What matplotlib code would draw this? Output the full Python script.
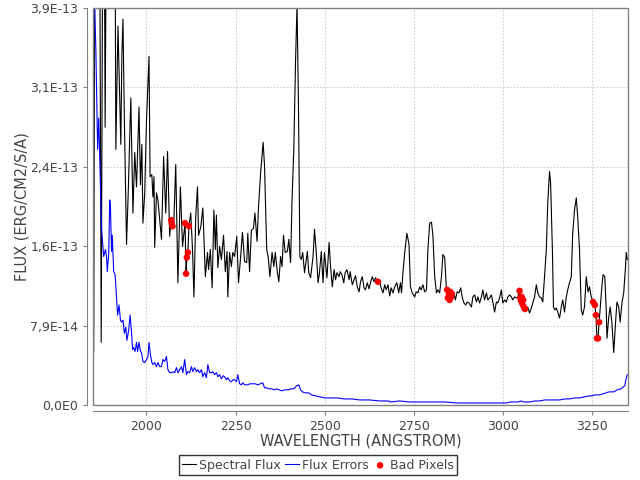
import numpy as np
import matplotlib
matplotlib.use("Agg")
import matplotlib.pyplot as plt
from matplotlib.patches import Rectangle

# spectral flux (units of 1e-13 erg/cm2/s/A)
wave = [1852, 1855, 1869, 1873, 1877, 1882, 1884, 1887, 1912, 1914, 1920, 1928, 1931, 1934, 1938,
        1944, 1949, 1956, 1962, 1967, 1972, 1979, 1983, 1987, 1990, 1995, 2000, 2007, 2010, 2015,
        2018, 2021, 2023, 2028, 2032, 2037, 2042, 2048, 2054, 2059, 2065, 2069, 2071, 2073, 2076,
        2082, 2088, 2095, 2101, 2108, 2111, 2113, 2116, 2119, 2124, 2129, 2133, 2138, 2143, 2146,
        2152, 2158, 2165, 2171, 2174, 2179, 2184, 2189, 2193, 2196, 2200, 2205, 2210, 2216, 2221,
        2226, 2228, 2233, 2238, 2242, 2247, 2253, 2258, 2264, 2269, 2275, 2281, 2284, 2289, 2294,
        2300, 2304, 2310, 2314, 2320, 2327, 2331, 2337, 2341, 2346, 2352, 2357, 2361, 2367, 2371,
        2376, 2380, 2384, 2389, 2395, 2399, 2404, 2408, 2413, 2418, 2422, 2426, 2430, 2434, 2438,
        2443, 2451, 2455, 2460, 2467, 2471, 2476, 2481, 2485, 2490, 2495, 2499, 2506, 2512, 2516,
        2521, 2526, 2530, 2534, 2540, 2543, 2548, 2553, 2557, 2562, 2568, 2571, 2577, 2582, 2586,
        2591, 2596, 2600, 2605, 2610, 2614, 2619, 2624, 2628, 2633, 2638, 2642, 2649, 2654, 2658,
        2663, 2668, 2672, 2677, 2682, 2686, 2691, 2696, 2702, 2707, 2712, 2715, 2719, 2724, 2730,
        2736, 2740, 2745, 2752, 2756, 2761, 2766, 2770, 2775, 2780, 2785, 2789, 2794, 2799, 2803,
        2808, 2813, 2817, 2822, 2827, 2831, 2836, 2841, 2843, 2845, 2848, 2850, 2852, 2854, 2856,
        2862, 2866, 2871, 2876, 2881, 2885, 2890, 2895, 2899, 2904, 2911, 2915, 2920, 2925, 2929,
        2934, 2939, 2943, 2948, 2953, 2957, 2962, 2967, 2971, 2976, 2981, 2985, 2990, 2995, 2999,
        3004, 3009, 3013, 3018, 3023, 3027, 3032, 3037, 3041, 3046, 3048, 3050, 3052, 3054, 3056,
        3058, 3061, 3069, 3074, 3079, 3083, 3088, 3093, 3097, 3102, 3107, 3111, 3116, 3121, 3125,
        3130, 3133, 3138, 3141, 3145, 3149, 3154, 3158, 3163, 3167, 3172, 3177, 3181, 3186, 3191,
        3195, 3200, 3205, 3209, 3214, 3219, 3223, 3228, 3233, 3238, 3242, 3247, 3252, 3257, 3260,
        3263, 3266, 3269, 3276, 3280, 3285, 3289, 3291, 3296, 3300, 3305, 3310, 3315, 3319, 3324,
        3328, 3333, 3338, 3343, 3345, 3348]
flux = [0.53, 4.60, 4.60, 0.62, 4.60, 4.60, 2.75, 4.60, 4.60, 2.53, 3.75, 2.58, 3.47, 3.82, 2.82,
        1.59, 2.13, 3.04, 1.90, 2.50, 2.16, 2.95, 2.18, 2.58, 1.80, 2.10, 2.82, 3.45, 2.26, 2.28,
        2.06, 2.26, 1.56, 2.10, 2.03, 1.83, 1.64, 2.46, 1.90, 2.51, 1.67, 1.83, 1.80, 1.77, 1.75,
        2.38, 1.21, 2.16, 1.57, 1.80, 1.30, 1.46, 1.51, 1.77, 1.90, 1.54, 1.07, 1.86, 2.16, 1.68,
        1.76, 1.95, 1.27, 1.51, 1.34, 1.54, 1.16, 1.93, 1.54, 1.88, 1.36, 1.57, 1.44, 1.68, 1.32,
        1.52, 1.07, 1.51, 1.37, 1.51, 1.47, 1.67, 1.21, 1.47, 1.71, 1.42, 1.41, 1.70, 1.32, 1.73,
        1.75, 1.90, 1.62, 1.96, 2.30, 2.60, 2.36, 1.54, 1.47, 1.27, 1.51, 1.37, 1.51, 1.31, 1.22,
        1.47, 1.37, 1.68, 1.51, 1.52, 1.64, 1.41, 2.03, 2.53, 3.42, 3.96, 3.00, 1.47, 1.44, 1.51,
        1.31, 1.52, 1.31, 1.26, 1.47, 1.74, 1.51, 1.21, 1.31, 1.52, 1.21, 1.51, 1.26, 1.61, 1.37,
        1.17, 1.34, 1.24, 1.31, 1.27, 1.32, 1.29, 1.21, 1.31, 1.34, 1.24, 1.32, 1.19, 1.24, 1.28,
        1.17, 1.12, 1.22, 1.27, 1.16, 1.14, 1.21, 1.15, 1.21, 1.27, 1.22, 1.26, 1.22, 1.21, 1.16,
        1.11, 1.19, 1.14, 1.19, 1.08, 1.16, 1.11, 1.17, 1.21, 1.11, 1.21, 1.11, 1.31, 1.51, 1.70,
        1.59, 1.17, 1.11, 1.07, 1.12, 1.11, 1.17, 1.14, 1.19, 1.12, 1.14, 1.54, 1.80, 1.81, 1.68,
        1.27, 1.11, 1.14, 1.11, 1.27, 1.49, 1.46, 1.14, 1.14, 1.06, 1.10, 1.04, 1.12, 1.07, 1.10,
        1.11, 1.04, 1.12, 1.11, 1.16, 1.07, 1.01, 0.99, 1.02, 1.01, 0.97, 1.07, 1.09, 1.02, 1.07,
        1.01, 1.07, 1.14, 1.04, 1.11, 1.04, 1.06, 1.09, 1.02, 0.92, 1.02, 1.01, 1.06, 1.14, 1.01,
        1.04, 1.02, 1.07, 1.09, 1.07, 1.04, 1.07, 1.06, 1.07, 1.13, 1.06, 1.03, 1.07, 1.00, 1.04,
        0.97, 0.95, 0.97, 0.91, 0.96, 1.01, 1.07, 1.19, 1.11, 1.07, 1.06, 1.02, 1.27, 1.54, 2.00,
        2.31, 2.20, 1.54, 0.97, 0.94, 0.96, 0.91, 0.86, 0.97, 1.04, 0.92, 1.07, 1.14, 1.21, 1.27,
        1.70, 1.93, 2.05, 1.86, 1.54, 0.94, 0.89, 0.97, 1.27, 1.12, 1.17, 1.07, 1.02, 0.99, 0.89,
        0.66, 0.66, 0.82, 1.14, 1.29, 1.27, 0.94, 0.66, 0.87, 0.97, 0.81, 0.52, 0.81, 1.02, 0.97,
        0.82, 1.01, 1.11, 1.37, 1.51, 1.44]

# flux errors
err_wave = [1852, 1858, 1863, 1866, 1872, 1874, 1880, 1885, 1888, 1890, 1894, 1897, 1899, 1902, 1904,
            1908, 1912, 1916, 1919, 1923, 1927, 1930, 1934, 1938, 1942, 1945, 1950, 1954, 1958, 1961,
            1964, 1968, 1972, 1975, 1979, 1983, 1986, 1990, 1995, 2000, 2004, 2007, 2011, 2015, 2018,
            2023, 2028, 2032, 2037, 2042, 2046, 2051, 2056, 2060, 2065, 2070, 2074, 2079, 2084, 2088,
            2093, 2098, 2102, 2107, 2112, 2116, 2121, 2126, 2130, 2135, 2140, 2144, 2149, 2154, 2158,
            2163, 2168, 2172, 2177, 2182, 2186, 2191, 2196, 2200, 2205, 2210, 2215, 2219, 2224, 2228,
            2233, 2238, 2243, 2247, 2252, 2256, 2261, 2266, 2270, 2275, 2280, 2284, 2290, 2298, 2305,
            2312, 2319, 2326, 2331, 2337, 2344, 2351, 2358, 2365, 2372, 2380, 2388, 2396, 2405, 2413,
            2421, 2427, 2432, 2437, 2446, 2455, 2463, 2475, 2486, 2500, 2514, 2535, 2555, 2576, 2598,
            2626, 2654, 2680, 2683, 2710, 2738, 2766, 2775, 2800, 2836, 2870, 2906, 2950, 2990, 3010,
            3020, 3031, 3040, 3051, 3056, 3074, 3090, 3102, 3116, 3130, 3145, 3158, 3172, 3186, 3200,
            3214, 3227, 3240, 3247, 3258, 3270, 3280, 3289, 3296, 3303, 3310, 3320, 3330, 3337, 3341,
            3344, 3348]
err = [4.30, 3.52, 2.53, 2.84, 2.03, 1.74, 1.47, 1.54, 1.47, 1.32, 1.49, 2.03, 1.95, 1.52, 1.68,
       1.32, 1.29, 1.07, 0.89, 0.99, 0.84, 0.82, 0.84, 0.71, 0.77, 0.64, 0.74, 0.89, 0.72, 0.55,
       0.57, 0.53, 0.62, 0.53, 0.62, 0.53, 0.52, 0.43, 0.42, 0.45, 0.48, 0.62, 0.50, 0.42, 0.40,
       0.42, 0.38, 0.42, 0.38, 0.38, 0.45, 0.43, 0.48, 0.35, 0.32, 0.32, 0.33, 0.32, 0.37, 0.32,
       0.35, 0.38, 0.32, 0.45, 0.30, 0.33, 0.32, 0.38, 0.33, 0.37, 0.33, 0.35, 0.32, 0.35, 0.28,
       0.32, 0.27, 0.40, 0.32, 0.32, 0.33, 0.30, 0.32, 0.28, 0.30, 0.26, 0.29, 0.28, 0.25, 0.27,
       0.24, 0.23, 0.25, 0.25, 0.23, 0.30, 0.21, 0.20, 0.22, 0.20, 0.20, 0.20, 0.21, 0.21, 0.21,
       0.20, 0.21, 0.22, 0.17, 0.17, 0.16, 0.16, 0.15, 0.16, 0.15, 0.14, 0.15, 0.15, 0.16, 0.16,
       0.19, 0.20, 0.15, 0.13, 0.12, 0.12, 0.10, 0.09, 0.08, 0.07, 0.07, 0.07, 0.06, 0.06, 0.05,
       0.05, 0.04, 0.04, 0.03, 0.04, 0.03, 0.03, 0.03, 0.03, 0.03, 0.02, 0.02, 0.02, 0.02, 0.02,
       0.03, 0.03, 0.03, 0.04, 0.03, 0.03, 0.04, 0.04, 0.05, 0.05, 0.05, 0.05, 0.06, 0.06, 0.07,
       0.07, 0.08, 0.09, 0.09, 0.10, 0.10, 0.11, 0.12, 0.13, 0.13, 0.13, 0.15, 0.16, 0.18, 0.19,
       0.25, 0.30]

# bad pixels
bad_wave = [2069, 2071, 2073, 2108, 2111, 2113, 2116, 2119, 2649, 2843, 2845, 2848, 2850, 2852, 2854,
            2856, 3046, 3048, 3050, 3052, 3054, 3056, 3058, 3061, 3252, 3257, 3260, 3263, 3266, 3269]
bad_flux = [1.83, 1.80, 1.77, 1.80, 1.30, 1.46, 1.51, 1.77, 1.22, 1.14, 1.06, 1.10, 1.04, 1.12, 1.07,
            1.10, 1.13, 1.06, 1.03, 1.07, 1.00, 1.04, 0.97, 0.95, 1.02, 0.99, 0.89, 0.66, 0.66, 0.82]

xticks = [2000, 2250, 2500, 2750, 3000, 3250]
yticks = [0.0, 7.86e-14, 1.572e-13, 2.358e-13, 3.144e-13, 3.93e-13]
ytick_labels = ["0,0E0", "7,9E-14", "1,6E-13", "2,4E-13", "3,1E-13", "3,9E-13"]

unit = 1e-13
txt = "#444444"
edge = "#808080"

fig = plt.figure(figsize=(6.4, 4.8), dpi=100)
ax = fig.add_axes([93/640, 75/480, 535/640, 397/480])

ax.plot(wave, np.array(flux)*unit, color="black", lw=0.8, label="Spectral Flux", zorder=3)
ax.plot(err_wave, np.array(err)*unit, color="blue", lw=0.8, label="Flux Errors", zorder=3)
ax.scatter(bad_wave, np.array(bad_flux)*unit, s=22, color="red", edgecolors="none",
           label="Bad Pixels", zorder=4)

ax.set_xlim(1850, 3350)
ax.set_ylim(0, 3.93e-13)
ax.set_xticks(xticks)
ax.set_yticks(yticks)
ax.set_yticklabels(ytick_labels)
ax.grid(True, color="#c4c4c4", linestyle=(0, (2, 2)), linewidth=0.6)
ax.set_axisbelow(True)

# axis lines sit a little outside the plot box
for s in ["top", "right"]:
    ax.spines[s].set_visible(False)
for s in ["left", "bottom"]:
    ax.spines[s].set_position(("outward", 4))
    ax.spines[s].set_color(edge)
ax.add_patch(Rectangle((0, 0), 1, 1, transform=ax.transAxes, fill=False,
                       edgecolor=edge, lw=1.0, clip_on=False, zorder=5))
ax.tick_params(colors=edge, labelcolor=txt, labelsize=9, length=3, width=0.8)

ax.set_xlabel("WAVELENGTH (ANGSTROM)", fontsize=10.5, color=txt, labelpad=0.5)
ax.set_ylabel("FLUX (ERG/CM2/S/A)", fontsize=10.5, color=txt, labelpad=1)

leg = fig.legend(loc="center", bbox_to_anchor=(0.497, 0.031), ncol=3, fontsize=9,
                 frameon=True, fancybox=False, edgecolor="black", borderpad=0.25,
                 handlelength=1.1, handletextpad=0.25, columnspacing=0.35, borderaxespad=0)
leg.get_frame().set_linewidth(1.0)
for t in leg.get_texts():
    t.set_color(txt)

fig.savefig("out.png", dpi=100)
